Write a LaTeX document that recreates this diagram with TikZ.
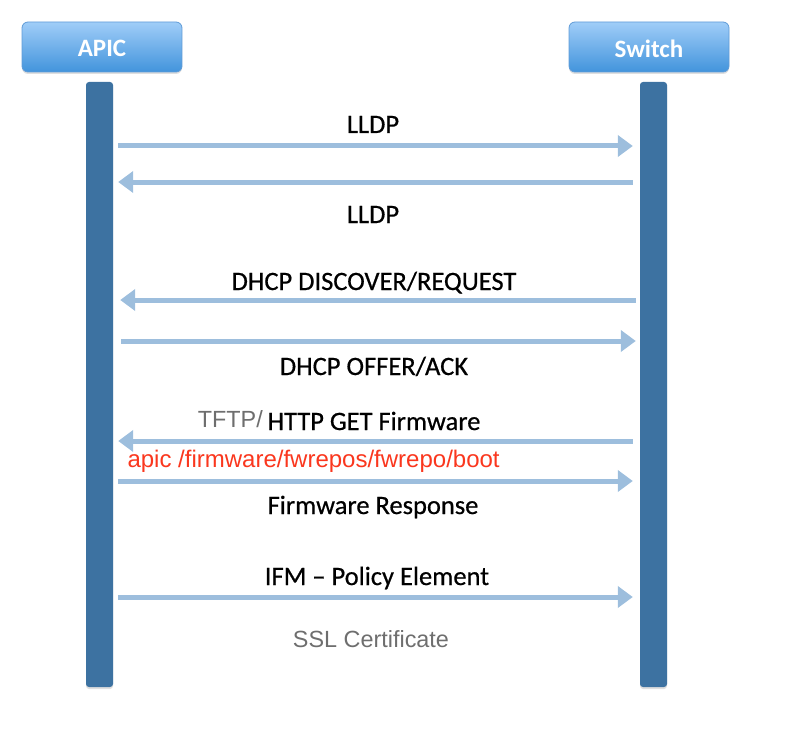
\documentclass[tikz,border=0pt]{standalone}
\usepackage{fontspec}
\setmainfont{Carlito}
\newfontfamily\lblfont[FakeBold=0.6]{Carlito}
\newfontfamily\arialf{Liberation Sans}
\usetikzlibrary{arrows.meta,shadows}
\definecolor{barblue}{RGB}{61,114,161}
\definecolor{msgblue}{RGB}{157,190,221}
\definecolor{hdtop}{RGB}{160,205,248}
\definecolor{hdbot}{RGB}{66,148,220}
\definecolor{hdborder}{RGB}{95,155,215}
\definecolor{redtxt}{RGB}{250,55,30}
\definecolor{graytxt}{RGB}{110,110,110}
\tikzset{
  header/.style={rounded corners=6pt, top color=hdtop, bottom color=hdbot, draw=hdborder, line width=0.8pt,
    minimum width=160pt, minimum height=50pt, text=white, font=\bfseries\fontsize{25}{28}\selectfont,
    drop shadow={opacity=0.25, shadow xshift=0pt, shadow yshift=-2pt}},
  lifebar/.style={rounded corners=3pt, fill=barblue, draw=none, minimum width=27pt, minimum height=605pt,
    drop shadow={opacity=0.25, shadow xshift=0pt, shadow yshift=-2pt}},
  msg/.style={draw=msgblue, line width=5pt, -{Triangle[length=15pt,width=21pt]}},
  msgl/.style={font=\lblfont\fontsize{26.5}{30}\selectfont, anchor=base},
  graylbl/.style={font=\arialf\fontsize{23.4}{26}\selectfont, text=graytxt, anchor=base},
  redlbl/.style={font=\arialf\fontsize{24}{27}\selectfont, text=redtxt, anchor=base west},
}
\begin{document}
\begin{tikzpicture}[x=1pt,y=-1pt]
\useasboundingbox (0,0) rectangle (794,730);
\node[header, text depth=0pt] (apic) at (102,47) {\raisebox{-3pt}{APIC}};
\node[header, text depth=0pt] (switch) at (649,47) {\raisebox{-3pt}{Switch}};
\node[lifebar] (abar) at (99.5,384.5) {};
\node[lifebar] (sbar) at (653.5,384.5) {};
% arrows
\draw[msg, shorten <=5pt, shorten >=7pt] (abar.east |- 0,146) -- (sbar.west |- 0,146);
\draw[msg, shorten <=7pt, shorten >=5pt] (sbar.west |- 0,182) -- (abar.east |- 0,182);
\draw[msg, shorten <=4pt, shorten >=7pt] (sbar.west |- 0,300) -- (abar.east |- 0,300);
\draw[msg, shorten <=8pt, shorten >=4pt] (abar.east |- 0,341) -- (sbar.west |- 0,341);
\draw[msg, shorten <=7pt, shorten >=5pt] (sbar.west |- 0,441) -- (abar.east |- 0,441);
\draw[msg, shorten <=5pt, shorten >=7pt] (abar.east |- 0,481) -- (sbar.west |- 0,481);
\draw[msg, shorten <=5pt, shorten >=7pt] (abar.east |- 0,597) -- (sbar.west |- 0,597);
% labels
\node[msgl] (l1) at (373,133) {LLDP};
\node[msgl] (l2) at (373,223) {LLDP};
\node[msgl] (l3) at (374,290) {DHCP DISCOVER/REQUEST};
\node[msgl] (l4) at (374,375) {DHCP OFFER/ACK};
\node[msgl] (l5) at (374,430) {HTTP GET Firmware};
\node[graylbl, anchor=base east, inner sep=0pt] (l5b) at (263,427) {TFTP/};
\node[redlbl] (l6) at (124,467) {apic /firmware/fwrepos/fwrepo/boot};
\node[msgl] (l7) at (373,514) {Firmware Response};
\node[msgl] (l8) at (377,585) {IFM – Policy Element};
\node[graylbl] (l9) at (371,647) {SSL Certificate};
\end{tikzpicture}
\end{document}
